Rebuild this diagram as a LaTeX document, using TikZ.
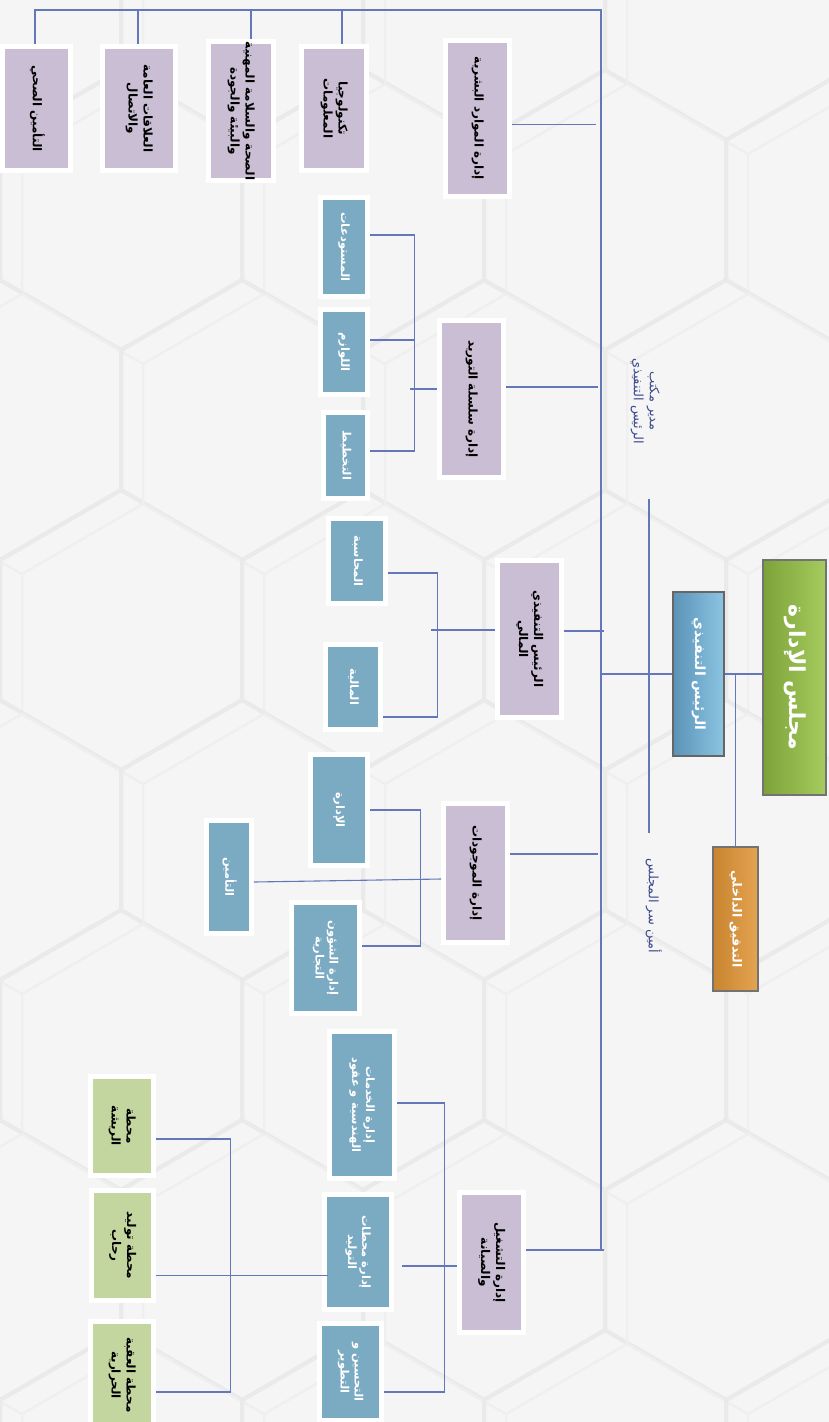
\documentclass[tikz,border=0pt]{standalone}
\usepackage{fontspec}
\newfontfamily\arabicfont[Script=Arabic]{DejaVu Sans}
\TeXXeTstate=1
\newcommand{\ar}[1]{\beginR#1\endR}
\newcommand{\vtext}[1]{\rotatebox{-90}{\begin{tabular}{@{}c@{}}#1\end{tabular}}}
\definecolor{bgc}{HTML}{F5F5F5}
\definecolor{hexc}{HTML}{EAEAEA}
\definecolor{hexd}{HTML}{EFEFEF}
\definecolor{linec}{HTML}{6577BB}
\definecolor{purp}{HTML}{C9BED3}
\definecolor{blu}{HTML}{7BAAC3}
\definecolor{grn}{HTML}{C4D69F}
\definecolor{lbl}{HTML}{3E4C8E}
\definecolor{ceoL}{HTML}{5B93B8}
\definecolor{ceoR}{HTML}{8CC4E2}
\definecolor{brdL}{HTML}{7CA23A}
\definecolor{brdR}{HTML}{A6CC5E}
\definecolor{audL}{HTML}{C8842F}
\definecolor{audR}{HTML}{E5A452}
\begin{document}
\begin{tikzpicture}[x=1pt, y=-1pt,
  conn/.style={draw=linec, line width=1.1pt},
  box/.style={draw=white, line width=5pt, inner sep=0pt},
  pbox/.style={box, fill=purp, text=black, font=\arabicfont\bfseries\fontsize{12}{15}\selectfont},
  bbox/.style={box, fill=blu, text=white, font=\arabicfont\bfseries\fontsize{11.5}{14}\selectfont},
  gbox/.style={box, fill=grn, text=black, font=\arabicfont\bfseries\fontsize{12}{15}\selectfont},
  topbox/.style={inner sep=0pt, line width=1.5pt, text=white, font=\arabicfont\bfseries},
  lab/.style={inner sep=0pt, text=lbl, font=\arabicfont\fontsize{13}{16}\selectfont},
  hexline/.style={draw=hexc, line width=4pt}]

\useasboundingbox (0,0) rectangle (829,1422);
\fill[bgc] (0,0) rectangle (829,1422);

\foreach \i in {-1,...,4}
  \foreach \j in {-1,...,8}
  {
    \pgfmathsetmacro\cx{\i*242+mod(\j+8,2)*121}
    \pgfmathsetmacro\cy{\j*210}
    \draw[hexline] (\cx,\cy) +(0,-140) -- +(121,-70) -- +(121,70) -- +(0,140) -- +(-121,70) -- +(-121,-70) -- cycle;
    \draw[draw=hexd, line width=2pt] (\cx+22,\cy+14) +(0,-140) -- +(121,-70) -- +(121,70) -- +(0,140) -- +(-121,70) -- +(-121,-70) -- cycle;
  }

% top row
\node[pbox, minimum width=68, minimum height=124] (ins) at (36.5,108.5) {\vtext{\ar{التأمين الصحي}}};
\node[pbox, minimum width=73, minimum height=124] (pr) at (139,108.5) {\vtext{\ar{العلاقات العامة}\\\ar{والاتصال}}};
\node[pbox, minimum width=65, minimum height=129] (hse) at (241,111) {\vtext{\ar{الصحة والسلامة المهنية}\\\ar{والبيئة والجودة}}};
\node[pbox, minimum width=65, minimum height=124] (it) at (334,108.5) {\vtext{\ar{تكنولوجيا}\\\ar{المعلومات}}};
\node[pbox, minimum width=64, minimum height=156] (hr) at (477.5,118.5) {\vtext{\ar{إدارة الموارد البشرية}}};

% supply chain
\node[pbox, minimum width=64, minimum height=157] (sc) at (471.5,399) {\vtext{\ar{إدارة سلسلة التوريد}}};
\node[bbox, minimum width=47, minimum height=99] (wh) at (344,247) {\vtext{\ar{المستودعات}}};
\node[bbox, minimum width=47, minimum height=85] (sup) at (344,352) {\vtext{\ar{اللوازم}}};
\node[bbox, minimum width=44, minimum height=86] (pl) at (345.5,455.5) {\vtext{\ar{التخطيط}}};

% finance
\node[pbox, minimum width=64, minimum height=157] (cfo) at (529.5,639) {\vtext{\ar{الرئيس التنفيذي}\\\ar{المالي}}};
\node[bbox, minimum width=57, minimum height=85] (acc) at (357,561) {\vtext{\ar{المحاسبة}}};
\node[bbox, minimum width=55, minimum height=85] (fin) at (353,687) {\vtext{\ar{المالية}}};

% top management
\node[topbox, draw=black!60, left color=ceoL, right color=ceoR, minimum width=51, minimum height=164, font=\arabicfont\bfseries\fontsize{14}{17}\selectfont] (ceo) at (698.5,674) {\vtext{\ar{الرئيس التنفيذي}}};
\node[topbox, draw=black!55, left color=brdL, right color=brdR, minimum width=63, minimum height=235, font=\arabicfont\bfseries\fontsize{22}{26}\selectfont] (board) at (794.5,677.5) {\vtext{\ar{مجلس الإدارة}}};
\node[topbox, draw=black!55, left color=audL, right color=audR, minimum width=45, minimum height=144, font=\arabicfont\bfseries\fontsize{12.5}{15}\selectfont] (audit) at (735.5,919) {\vtext{\ar{التدقيق الداخلي}}};
\node[lab] (mgr) at (645,401) {\vtext{\ar{مدير مكتب}\\\ar{الرئيس التنفيذي}}};
\node[lab] (secr) at (653,906) {\vtext{\ar{أمين سر المجلس}}};

% assets
\node[pbox, minimum width=64, minimum height=139] (ast) at (475.5,873) {\vtext{\ar{إدارة الموجودات}}};
\node[bbox, minimum width=57, minimum height=111] (adm) at (339,810) {\vtext{\ar{الإدارة}}};
\node[bbox, minimum width=68, minimum height=111] (com) at (325.5,958) {\vtext{\ar{إدارة الشؤون}\\\ar{التجارية}}};
\node[bbox, minimum width=45, minimum height=113] (insu) at (229,877) {\vtext{\ar{التأمين}}};

% operations
\node[pbox, minimum width=64, minimum height=140] (ops) at (491.5,1262.5) {\vtext{\ar{إدارة التشغيل}\\\ar{والصيانة}}};
\node[bbox, minimum width=65, minimum height=147] (eng) at (362,1105) {\vtext{\ar{إدارة الخدمات}\\\ar{الهندسية و عقود}}};
\node[bbox, minimum width=67, minimum height=115] (gen) at (358,1252) {\vtext{\ar{إدارة محطات}\\\ar{التوليد}}};
\node[bbox, minimum width=62, minimum height=97] (dev) at (350.5,1372) {\vtext{\ar{التحسين و}\\\ar{التطوير}}};
\node[gbox, minimum width=63, minimum height=99] (st1) at (122,1126) {\vtext{\ar{محطة}\\\ar{الريشة}}};
\node[gbox, minimum width=62, minimum height=110] (st2) at (122.5,1245.5) {\vtext{\ar{محطة توليد}\\\ar{رحاب}}};
\node[gbox, minimum width=63, minimum height=107] (st3) at (122,1375) {\vtext{\ar{محطة العقبة}\\\ar{الحرارية}}};

% connectors
\coordinate (tR) at (601,10);
\coordinate (mB) at (601,1250);
\draw[conn] ([xshift=-1.5pt]ins.north) |- (tR) -- (mB);
\foreach \n/\s in {pr/-1,hse/10,it/8}
  \draw[conn] ([xshift=\s pt]\n.north) -- ([xshift=\s pt]\n.north |- tR);
\draw[conn] ([yshift=-6pt]hr.east) -- ++(84,0);

\draw[conn] ([yshift=12pt]sc.east) -- ++(92,0);
\draw[conn] ([yshift=12pt]wh.east) -- ++(44.5,0) |- ([yshift=4.5pt]pl.east);
\draw[conn] ([yshift=12pt]sup.east) -- ++(44.5,0);
\draw[conn] ([yshift=10pt]sc.west) -- ++(-27.5,0);

\draw[conn] ([yshift=8pt]cfo.east) -- ++(39.5,0);
\draw[conn] ([yshift=-12pt]acc.east) -- ++(49.5,0) |- ([yshift=-30pt]fin.east);
\draw[conn] ([yshift=9pt]cfo.west) -- ++(-64.5,0);

\draw[conn] (ceo.west) -- (ceo.west -| mB);
\draw[conn] (ceo.east) -- (ceo.east -| board.west);
\draw[conn] (audit.north) -- (audit.north |- ceo.east);
\draw[conn] ([xshift=4pt,yshift=-55pt]mgr.south) -- ([xshift=-4pt,yshift=25pt]secr.north);

\draw[conn] ([yshift=19pt]ast.east) -- ++(88,0);
\draw[conn] (adm.east) -- ++(50.5,0) |- ([yshift=12pt]com.east);
\draw[conn] ([yshift=-5pt]insu.east) -- ([yshift=-6pt]ast.west);

\draw[conn] ([yshift=12.5pt]ops.east) -- ++(77.5,0);
\draw[conn] ([yshift=2pt]eng.east) -- ++(47.5,0) |- ([yshift=-20pt]dev.east);
\draw[conn] ([xshift=8pt,yshift=-14pt]gen.east) -- ([yshift=-14pt]gen.east -| ops.west);

\draw[conn] ([yshift=-13pt]st1.east) -- ++(74.5,0) |- ([yshift=-17pt]st3.east);
\draw[conn] ([yshift=-30pt]st2.east) -- ([xshift=6pt,yshift=-30pt]st2.east -| gen.west);

\end{tikzpicture}
\end{document}
